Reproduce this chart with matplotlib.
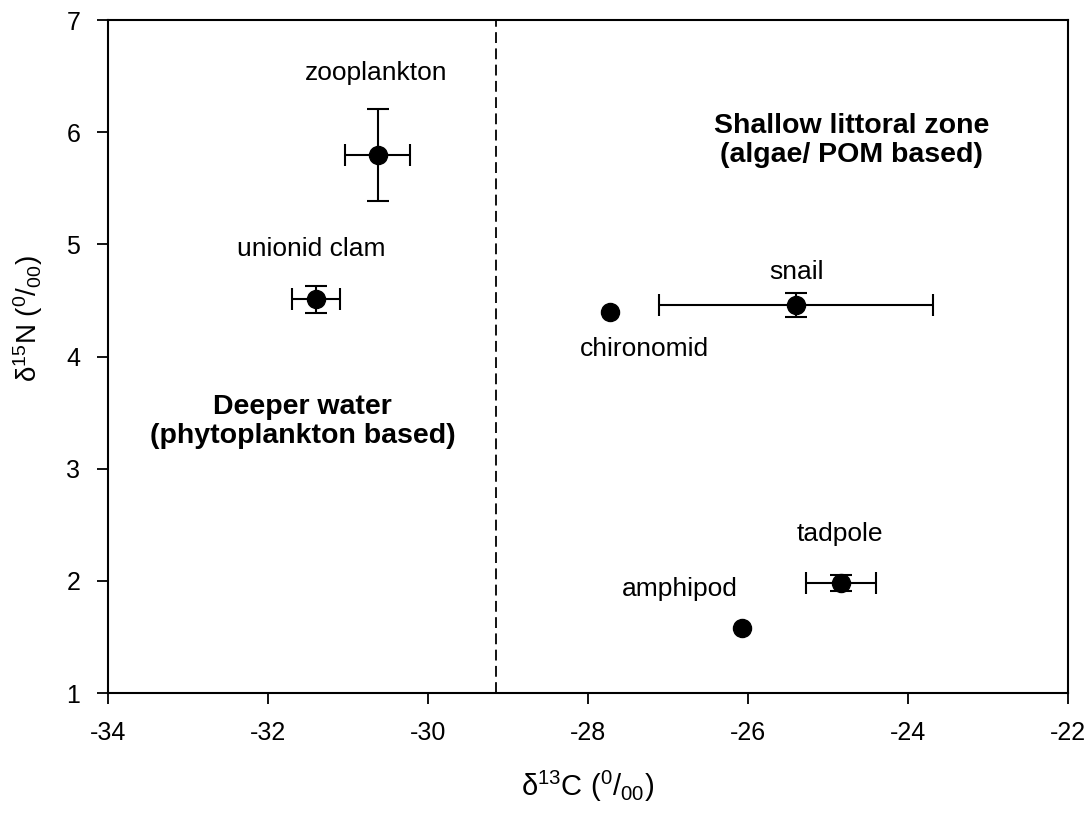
import matplotlib.pyplot as plt
import numpy as np

plt.rcParams['font.family'] = ['Liberation Sans', 'DejaVu Sans']
plt.rcParams['mathtext.fontset'] = 'custom'
plt.rcParams['mathtext.rm'] = 'Liberation Sans'
plt.rcParams['mathtext.it'] = 'Liberation Sans:italic'
plt.rcParams['mathtext.bf'] = 'Liberation Sans:bold'
plt.rcParams['axes.unicode_minus'] = False

# data: delta13C, delta15N and their errors
taxa = ['zooplankton', 'unionid clam', 'chironomid', 'snail', 'tadpole', 'amphipod']
d13C = [-30.63, -31.40, -27.72, -25.40, -24.84, -26.07]
d15N = [5.80, 4.51, 4.40, 4.46, 1.98, 1.58]
xerr = [0.41, 0.30, 0.0, 1.71, 0.44, 0.0]
yerr = [0.41, 0.12, 0.0, 0.11, 0.07, 0.0]
boundary = -29.15

# label positions (data coords)
lab_x = [-30.65, -31.46, -27.30, -25.39, -24.85, -26.85]
lab_y = [6.53, 4.96, 4.07, 4.75, 2.42, 1.93]

fig = plt.figure(figsize=(10.89, 8.14), dpi=100)
ax = fig.add_axes([0.0992, 0.1486, 0.8815, 0.8268])

for x, y, xe, ye in zip(d13C, d15N, xerr, yerr):
    ax.errorbar(x, y, xerr=xe if xe > 0 else None, yerr=ye if ye > 0 else None,
                fmt='o', color='black', ms=13, ecolor='black', elinewidth=1.5,
                capsize=8, capthick=1.5, zorder=3)

for t, x, y in zip(taxa, lab_x, lab_y):
    ax.text(x, y, t, ha='center', va='center', fontsize=19)

ax.axvline(boundary, color='black', ls=(0, (6, 3)), lw=1.3)

ax.text(-24.71, 5.93, 'Shallow littoral zone\n(algae/ POM based)', ha='center', va='center',
        fontsize=20.5, fontweight='bold', linespacing=1.15)
ax.text(-31.57, 3.42, 'Deeper water\n(phytoplankton based)', ha='center', va='center',
        fontsize=20.5, fontweight='bold', linespacing=1.15)

ax.set_xlim(-34, -22)
ax.set_ylim(1, 7)
ax.set_xticks(np.arange(-34, -21, 2))
ax.set_yticks(np.arange(1, 8, 1))
ax.tick_params(direction='out', length=8, width=1.3, labelsize=18, pad=12)
for s in ax.spines.values():
    s.set_linewidth(1.5)

ax.set_xlabel('δ$^{13}$C ($^{0}$/$_{00}$)', fontsize=21)
ax.set_ylabel('δ$^{15}$N ($^{0}$/$_{00}$)', fontsize=20)
ax.xaxis.set_label_coords(0.5, -0.112)
ax.yaxis.set_label_coords(-0.066, 0.556)

fig.savefig('out.png', dpi=100)
